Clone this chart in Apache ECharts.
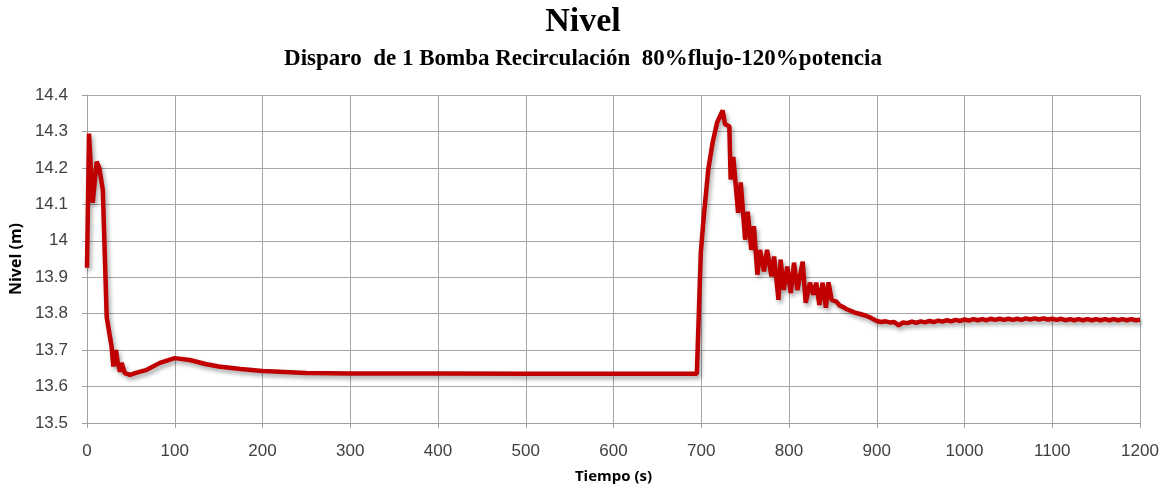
<!DOCTYPE html>
<html>
<head>
<meta charset="utf-8">
<script src="https://cdn.jsdelivr.net/npm/echarts@6/dist/echarts.min.js"></script>
<style>
  html, body { margin: 0; padding: 0; background: #fff; }
  #chart { width: 1166px; height: 491px; }
</style>
</head>
<body>
<div id="chart"></div>
<script>
// tiempo (s) y nivel (m)
const timeS = [
  0, 2.3, 6.5, 11, 14, 18, 22.5, 28, 30, 33, 35, 37.6, 39.5, 43, 49, 56.6, 68, 83, 100, 117,
  135, 150, 175, 200, 250, 300, 400, 500, 600, 695, 697, 699.5, 703, 708, 713, 718, 724.4, 727,
  732, 733.5, 736.5, 742, 745, 750, 753, 757, 760, 764, 767, 771.5, 775, 780, 783, 788, 790.5,
  794, 798, 802, 805.7, 809.5, 815.6, 819, 823.9, 827.7, 831, 834.6, 838.4, 842, 845, 848.6,
  854, 858, 862, 866, 870, 875, 881, 887, 893,
  900, 905, 910, 915, 920, 925, 930, 935, 940, 945, 950, 955, 960, 965, 970, 975, 980, 985,
  990, 995, 1000, 1005, 1010, 1015, 1020, 1025, 1030, 1035, 1040, 1045, 1050, 1055, 1060,
  1065, 1070, 1075, 1080, 1085, 1090, 1095, 1100, 1105, 1110, 1115, 1120, 1125, 1130, 1135,
  1140, 1145, 1150, 1155, 1160, 1165, 1170, 1175, 1180, 1185, 1190, 1195, 1200
]
const nivelM = [
  13.926, 14.294, 14.104, 14.217, 14.2, 14.14, 13.79, 13.71, 13.655, 13.70, 13.665, 13.641, 13.665, 13.637, 13.632, 13.638, 13.646, 13.665, 13.678, 13.673,
  13.662, 13.655, 13.648, 13.643, 13.637, 13.636, 13.636, 13.635, 13.635, 13.635, 13.64, 13.967, 14.07, 14.195, 14.27, 14.324, 14.358, 14.32,
  14.314, 14.168, 14.23, 14.077, 14.16, 14.003, 14.08, 13.975, 14.04, 13.907, 13.975, 13.916, 13.975, 13.902, 13.957, 13.838, 13.948,
  13.865, 13.929, 13.857, 13.94, 13.865, 13.943, 13.83, 13.885, 13.852, 13.885, 13.824, 13.885, 13.816, 13.886, 13.838,
  13.833, 13.822, 13.818, 13.812, 13.808, 13.803, 13.799, 13.795, 13.789,
  13.780, 13.777, 13.779, 13.776, 13.777, 13.768, 13.776, 13.774, 13.778, 13.775, 13.779, 13.776, 13.780, 13.777, 13.781, 13.778, 13.782, 13.779,
  13.783, 13.780, 13.784, 13.781, 13.785, 13.782, 13.785, 13.782, 13.786, 13.783, 13.786, 13.783, 13.786, 13.783, 13.786,
  13.783, 13.787, 13.784, 13.787, 13.784, 13.787, 13.784, 13.786, 13.783, 13.786, 13.782, 13.785, 13.782, 13.785, 13.782,
  13.785, 13.782, 13.785, 13.782, 13.785, 13.782, 13.785, 13.782, 13.785, 13.782, 13.785, 13.782, 13.783
]
const yTicks = { min: 13.5, max: 14.4, step: 0.1 }
const xTicks = { min: 0, max: 1200, step: 100 }

const points = timeS.map((t, i) => [t, nivelM[i]])

const chart = echarts.init(document.getElementById('chart'))
const option = {
  animation: false,
  title: [
    {
      text: 'Nivel',
      left: 'center',
      top: 0,
      textStyle: { fontFamily: 'Liberation Serif', fontSize: 34, fontWeight: 'bold', color: '#000' }
    },
    {
      text: 'Disparo  de 1 Bomba Recirculación  80%flujo-120%potencia',
      left: 'center',
      top: 43,
      textStyle: { fontFamily: 'Liberation Serif', fontSize: 23, fontWeight: 'bold', color: '#000' }
    }
  ],
  grid: { left: 87, right: 26, top: 95, bottom: 68 },
  xAxis: {
    type: 'value',
    min: xTicks.min,
    max: xTicks.max,
    interval: xTicks.step,
    name: 'Tiempo (s)',
    nameLocation: 'middle',
    nameGap: 46,
    nameTextStyle: { fontFamily: 'Open Sans', fontSize: 15, fontWeight: 'bold', color: '#000' },
    axisLine: { show: true, lineStyle: { color: '#a0a0a0', width: 1 } },
    axisTick: { show: true, length: 5, lineStyle: { color: '#a0a0a0' } },
    axisLabel: {
      fontFamily: 'Liberation Sans', fontSize: 17, color: '#404040', margin: 20,
      formatter: v => String(v)
    },
    splitLine: { show: true, lineStyle: { color: '#a6a6a6', width: 1 } }
  },
  yAxis: {
    type: 'value',
    min: yTicks.min,
    max: yTicks.max,
    interval: yTicks.step,
    name: 'Nivel (m)',
    nameLocation: 'middle',
    nameGap: 52,
    nameRotate: 90,
    nameTextStyle: { fontFamily: 'Open Sans', fontSize: 16, fontWeight: 'bold', color: '#000' },
    axisLine: { show: true, lineStyle: { color: '#a0a0a0', width: 1 } },
    axisTick: { show: true, length: 5, lineStyle: { color: '#a0a0a0' } },
    axisLabel: {
      fontFamily: 'Liberation Sans', fontSize: 17, color: '#404040', margin: 19,
      formatter: v => String(+v.toFixed(1))
    },
    splitLine: { show: true, lineStyle: { color: '#a6a6a6', width: 1 } }
  },
  series: [
    {
      name: 'Nivel',
      type: 'line',
      data: points,
      showSymbol: false,
      smooth: false,
      lineStyle: {
        color: '#c00000',
        width: 4.5,
        shadowColor: 'rgba(0,0,0,0.35)',
        shadowBlur: 4,
        shadowOffsetX: 2,
        shadowOffsetY: 3
      }
    }
  ]
}
chart.setOption(option)
</script>
</body>
</html>
